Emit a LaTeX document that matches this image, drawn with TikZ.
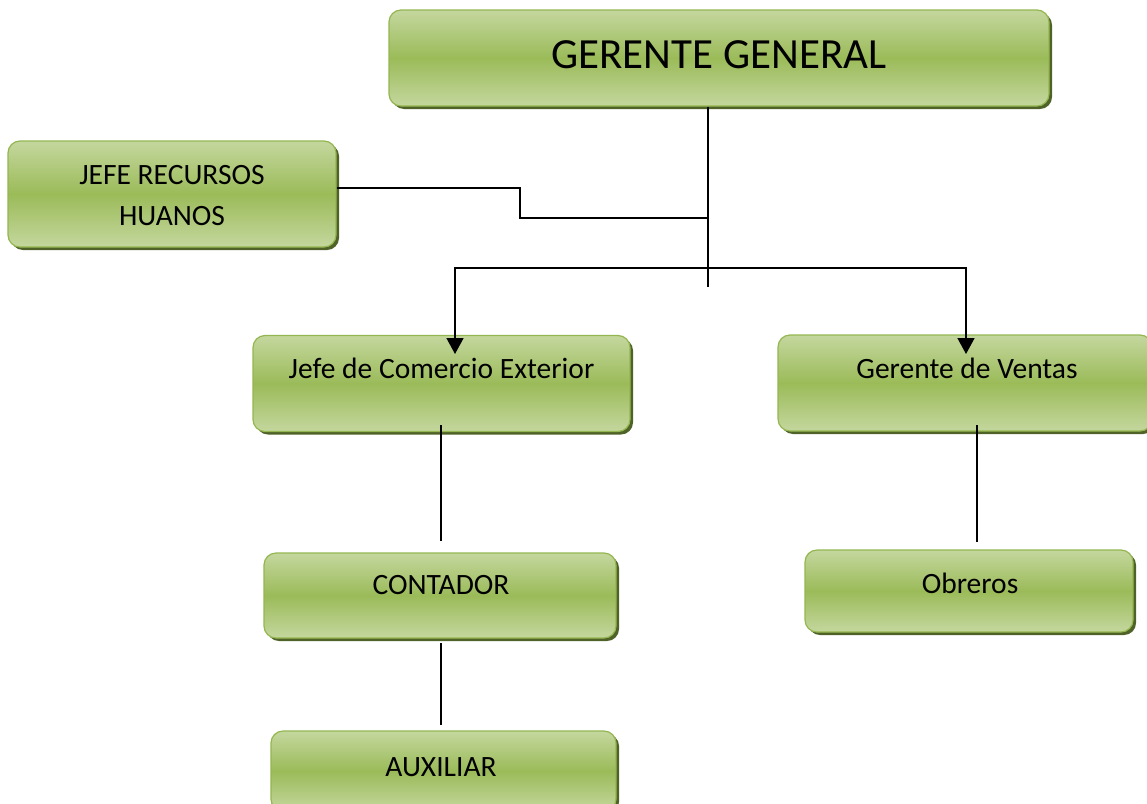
\documentclass[tikz,border=0pt]{standalone}
\usepackage{fontspec}
\setmainfont{Carlito}
\usetikzlibrary{shadows,arrows.meta}
\definecolor{gLight}{HTML}{C4D79E}
\definecolor{gMid}{HTML}{9BBB59}
\definecolor{gBorder}{HTML}{94B650}
\definecolor{gShadow}{HTML}{4F6228}
\tikzset{
  box/.style={rounded corners=12pt, draw=gBorder, line width=1.2pt,
    top color=gLight, bottom color=gLight, middle color=gMid,
    drop shadow={shadow xshift=3pt, shadow yshift=-3pt, fill=gShadow, opacity=1},
    inner sep=0pt, align=center},
  txt/.style={font=\fontsize{29.5}{41}\selectfont, align=center, inner sep=0pt},
  conn/.style={line width=1.6pt, black},
  arr/.style={conn, -{Triangle[width=17pt,length=16pt]}}
}
\begin{document}
\begin{tikzpicture}[x=1pt,y=-1pt]
\useasboundingbox (0,0) rectangle (1147,803);
% boxes
\node[box, minimum width=660pt, minimum height=96pt] (gg) at (719,58) {};
\node[txt, font=\fontsize{43}{48}\selectfont] (ggt) at (719,55) {GERENTE GENERAL};
\node[box, minimum width=328pt, minimum height=106pt] (jrh) at (172,194) {};
\node[txt] (jrht) at (172,196) {JEFE RECURSOS\\HUANOS};
\node[box, minimum width=377pt, minimum height=96pt] (jce) at (441.5,383.5) {};
\node[txt] (jcet) at (441.5,368) {Jefe de Comercio Exterior};
\node[box, minimum width=374pt, minimum height=96pt] (gv) at (965,383) {};
\node[txt] (gvt) at (967,368) {Gerente de Ventas};
\node[box, minimum width=352pt, minimum height=85pt] (cont) at (440,595.5) {};
\node[txt] (contt) at (441,585) {CONTADOR};
\node[box, minimum width=328pt, minimum height=82pt] (obr) at (969,591) {};
\node[txt] (obrt) at (970,583) {Obreros};
\node[box, minimum width=345pt, minimum height=80pt] (aux) at (443.5,771) {};
\node[txt] (auxt) at (441,767) {AUXILIAR};
% junction coordinates
\coordinate (j1) at (708,218);
\coordinate (j2) at (708,268);
\coordinate (jend) at (708,287);
\coordinate (bend) at (520,218);
\coordinate (a1) at (455,354);
\coordinate (a2) at (966,354);
\coordinate (jceA) at (441,425);
\coordinate (jceB) at (441,541);
\coordinate (gvA) at (977,425);
\coordinate (gvB) at (977,542);
\coordinate (coA) at (441,643);
\coordinate (coB) at (441,725);
% connectors
\draw[conn] (gg.south -| j1) -- (jend);
\draw[conn] ([yshift=6pt]jrh.east) -| (bend) -- (j1);
\draw[arr] (j2) -| (a1);
\draw[arr] (j2) -| (a2);
\draw[conn] (jceA) -- (jceB);
\draw[conn] (gvA) -- (gvB);
\draw[conn] (coA) -- (coB);
\end{tikzpicture}
\end{document}
